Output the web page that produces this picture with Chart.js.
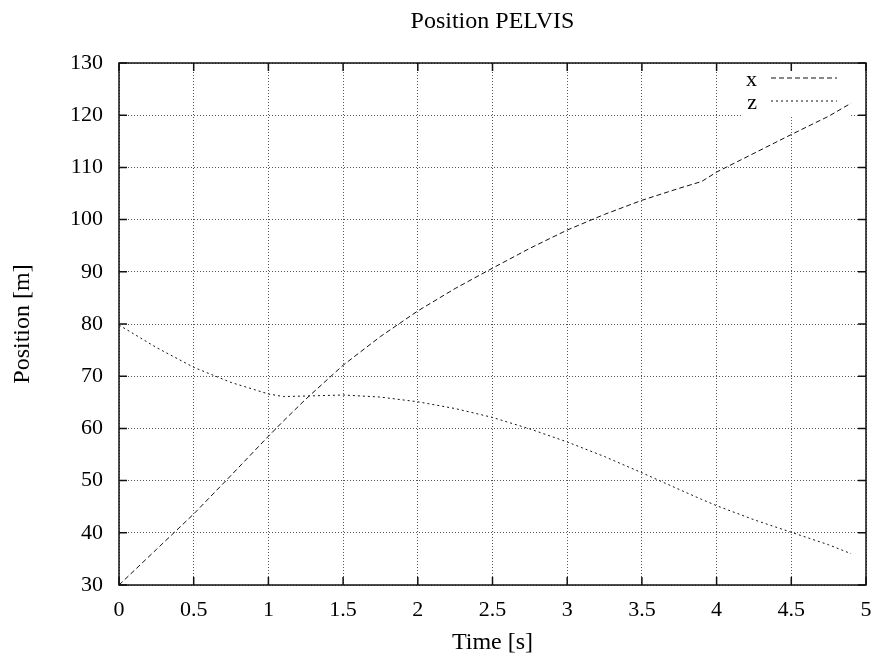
<!DOCTYPE html>
<html>
<head>
<meta charset="utf-8">
<title>Position PELVIS</title>
<script src="https://cdn.jsdelivr.net/npm/chart.js@4.4.1/dist/chart.umd.min.js"></script>
<style>
    html, body { margin: 0; padding: 0; background: #fff; }
    canvas { display: block; }
</style>
</head>
<body>
<canvas id="chart-pelvis" width="873" height="657"></canvas>
<script>
// Data
const times = [0, 0.25, 0.5, 0.75, 1, 1.1, 1.25, 1.5, 1.75, 2, 2.25, 2.5, 2.75, 3, 3.25, 3.5, 3.75, 3.9, 4, 4.25, 4.5, 4.75, 4.9];
const posX = [30, 36.8, 43.6, 51.0, 58.5, 61.4, 65.6, 72.1, 77.6, 82.5, 86.8, 90.7, 94.5, 98.0, 101.0, 103.7, 106.0, 107.3, 109.1, 112.7, 116.3, 119.8, 122.3];
const posZ = [79.8, 75.5, 71.7, 68.8, 66.6, 66.1, 66.2, 66.4, 66.0, 65.1, 63.8, 62.1, 59.9, 57.4, 54.6, 51.5, 48.3, 46.4, 45.2, 42.5, 40.1, 37.7, 36.0];
const seriesNames = ['x', 'z'];
const seriesDash = [[5, 3], [2, 3]];

const FONT = "'Liberation Serif', 'Times New Roman', serif";

// gnuplot-ish frame, inward ticks, title and key
const gnuplotLook = {
    id: 'gnuplotLook',
    beforeDatasetsDraw(chart) {
        // blank the key area so the grid stops behind it
        const ctx = chart.ctx;
        ctx.save();
        ctx.fillStyle = '#fff';
        ctx.fillRect(741, chart.chartArea.top + 1, 110, 115 - chart.chartArea.top);
        ctx.restore();
    },
    afterDraw(chart) {
        const ctx = chart.ctx;
        const a = chart.chartArea;
        const xs = chart.scales.x, ys = chart.scales.y;
        ctx.save();

        // frame
        ctx.strokeStyle = '#111';
        ctx.lineWidth = 1.5;
        ctx.strokeRect(a.left, a.top, a.right - a.left, a.bottom - a.top);

        // ticks pointing inward on all four sides
        ctx.beginPath();
        xs.ticks.forEach(t => {
            const px = xs.getPixelForValue(t.value);
            ctx.moveTo(px, a.bottom); ctx.lineTo(px, a.bottom - 8);
            ctx.moveTo(px, a.top); ctx.lineTo(px, a.top + 8);
        });
        ys.ticks.forEach(t => {
            const py = ys.getPixelForValue(t.value);
            ctx.moveTo(a.left, py); ctx.lineTo(a.left + 8, py);
            ctx.moveTo(a.right, py); ctx.lineTo(a.right - 8, py);
        });
        ctx.stroke();

        // title centred over the plot
        ctx.fillStyle = '#000';
        ctx.font = '24px ' + FONT;
        ctx.textAlign = 'center';
        ctx.textBaseline = 'middle';
        ctx.fillText('Position PELVIS', (a.left + a.right) / 2, 22);

        // key: label then line sample
        ctx.font = '22px ' + FONT;
        seriesNames.forEach((name, i) => {
            const y = 78 + i * 23;
            ctx.textAlign = 'right';
            ctx.fillText(name, 757, y + 2);
            ctx.strokeStyle = '#111';
            ctx.lineWidth = 1;
            ctx.setLineDash(seriesDash[i]);
            ctx.beginPath();
            ctx.moveTo(771, y);
            ctx.lineTo(837, y);
            ctx.stroke();
            ctx.setLineDash([]);
        });
        ctx.restore();
    }
};

new Chart(document.getElementById('chart-pelvis'), {
    type: 'line',
    data: {
        datasets: [
            {
                label: seriesNames[0],
                data: times.map((t, i) => ({ x: t, y: posX[i] })),
                borderColor: '#111',
                borderWidth: 1,
                borderDash: seriesDash[0],
                pointRadius: 0,
                tension: 0,
                fill: false
            },
            {
                label: seriesNames[1],
                data: times.map((t, i) => ({ x: t, y: posZ[i] })),
                borderColor: '#111',
                borderWidth: 1,
                borderDash: seriesDash[1],
                pointRadius: 0,
                tension: 0,
                fill: false
            }
        ]
    },
    options: {
        responsive: false,
        animation: false,
        layout: { padding: { top: 63, right: 7, left: 0, bottom: 0 } },
        plugins: {
            legend: { display: false },
            title: { display: false },
            tooltip: { enabled: false }
        },
        scales: {
            x: {
                type: 'linear',
                min: 0,
                max: 5,
                afterFit: s => { s.height = 72; s.paddingRight = 0; s.paddingLeft = 0; },
                ticks: {
                    stepSize: 0.5,
                    color: '#000',
                    padding: 12,
                    maxRotation: 0,
                    callback: v => String(v),
                    font: { family: FONT, size: 22 }
                },
                grid: { color: '#555', lineWidth: 1, drawTicks: false },
                border: { display: false, dash: [1, 2] },
                title: {
                    display: true,
                    text: 'Time [s]',
                    color: '#000',
                    padding: { top: 0, bottom: 0 },
                    font: { family: FONT, size: 24, lineHeight: 1.2 }
                }
            },
            y: {
                min: 30,
                max: 130,
                afterFit: s => { s.width = 119; s.paddingTop = 0; s.paddingBottom = 0; },
                ticks: {
                    stepSize: 10,
                    color: '#000',
                    padding: 16,
                    font: { family: FONT, size: 22 }
                },
                grid: { color: '#555', lineWidth: 1, drawTicks: false },
                border: { display: false, dash: [1, 2] },
                title: {
                    display: true,
                    text: 'Position [m]',
                    color: '#000',
                    padding: { top: 8, bottom: 0 },
                    font: { family: FONT, size: 24, lineHeight: 1.2 }
                }
            }
        }
    },
    plugins: [gnuplotLook]
});
</script>
</body>
</html>
